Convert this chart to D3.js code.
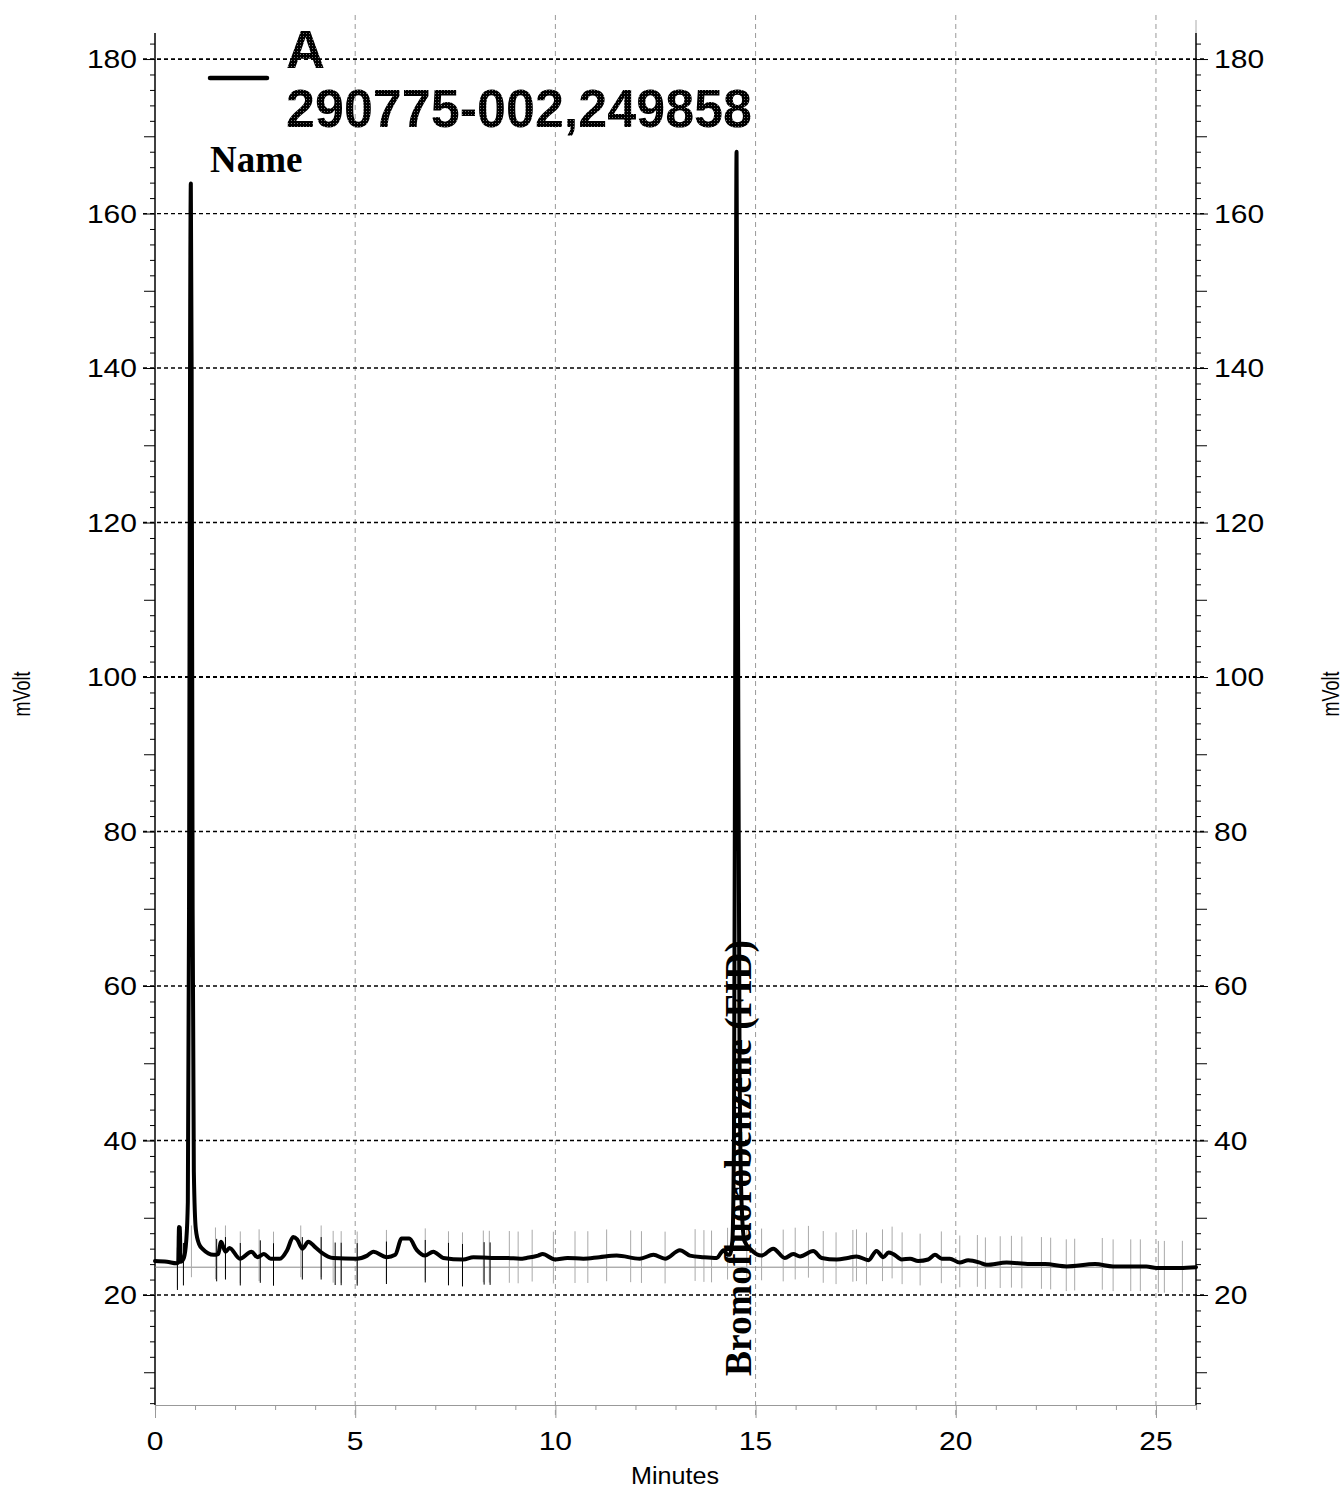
<!DOCTYPE html>
<html><head><meta charset="utf-8">
<script src="https://cdn.jsdelivr.net/npm/d3@7"></script>
<style>html,body{margin:0;padding:0;background:#fff;}svg{display:block;}</style>
</head><body>
<script>
// ---- data ----
const times = [0,0.3,0.54,0.58,0.6,0.62,0.64,0.72,0.78,0.82,0.85,0.875,0.895,0.915,0.94,0.97,1.02,1.1,1.2,1.46,1.58,1.65,1.76,1.86,2.12,2.41,2.56,2.72,2.89,3.12,3.3,3.45,3.55,3.68,3.83,4.0,4.16,4.45,5.04,5.3,5.45,5.79,6.0,6.16,6.35,6.54,6.74,6.95,7.2,7.7,7.95,8.4,8.78,9.12,9.28,9.57,9.68,9.99,10.3,10.7,11.1,11.53,12.11,12.45,12.74,13.11,13.36,13.7,14.03,14.2,14.3,14.35,14.42,14.46,14.49,14.525,14.56,14.6,14.65,14.72,14.9,15.15,15.44,15.73,15.94,16.11,16.44,16.65,17.03,17.3,17.52,17.82,18.02,18.19,18.32,18.44,18.65,18.86,19.06,19.31,19.48,19.65,19.85,20.1,20.31,20.6,20.77,21.27,21.85,22.23,22.77,23.48,23.93,24.76,25.01,25.6,26.0];
const signal = [24.4,24.3,24.1,24.2,28.8,28.7,24.3,24.8,27,32,70,140,163.9,140,70,36,28.5,26.6,25.9,25.2,25.3,26.9,25.6,26.1,24.7,25.6,24.9,25.3,24.7,24.7,25.8,27.5,27.2,26.0,26.9,26.2,25.5,24.8,24.7,25.1,25.6,24.9,25.2,27.3,27.3,25.8,25.1,25.6,24.8,24.6,24.9,24.8,24.8,24.7,24.8,25.1,25.3,24.6,24.8,24.7,24.9,25.1,24.7,25.2,24.7,25.8,25.1,24.9,24.8,25.8,25.2,25.2,27,40,100,168,110,50,32,27,25.8,25.1,26.0,24.8,25.3,25.0,25.7,24.8,24.6,24.8,25.0,24.5,25.7,24.9,25.5,25.3,24.6,24.7,24.4,24.6,25.2,24.7,24.7,24.2,24.5,24.2,23.9,24.2,24.0,24.0,23.7,24.0,23.7,23.7,23.5,23.5,23.6];
const blackMarks = [0.56,0.71,1.54,1.76,2.13,2.63,2.96,3.68,4.15,4.50,4.65,5.05,5.78,6.75,7.33,7.68,8.22,8.37];
const grayMarks = [0.56,0.91,1.51,1.76,2.13,2.6,2.96,3.64,4.15,4.45,4.65,5.05,5.78,6.75,7.33,7.68,8.2,8.35,8.85,9.07,9.42,9.95,10.49,10.81,11.28,11.88,12.15,12.74,13.49,13.71,13.9,14.3,14.78,15.15,15.69,15.99,16.32,16.69,17.01,17.43,17.52,17.77,18.17,18.41,18.66,19.11,19.64,20.1,20.54,20.74,21.11,21.39,21.65,22.14,22.37,22.76,22.97,23.66,23.93,24.37,24.61,25.06,25.21,25.66];
const yTicks = [20,40,60,80,100,120,140,160,180];
const xTicks = [0,5,10,15,20,25];
const baselineLevel = 23.6;
const legendLabel = "A";
const sampleName = "290775-002,249858";
const peakName = "Bromofluorobenzene (FID)";
const peakTime = 14.525;

// ---- layout ----
const W = 1344, H = 1491;
const L = 155, R = 1196, T = 33, B = 1405;
const x = d3.scaleLinear().domain([0, 26]).range([L, R]);
const y = d3.scaleLinear().domain([5.76, 183.37]).range([B, T]);

const svg = d3.select("body").append("svg").attr("width", W).attr("height", H);
const defs = svg.append("defs");
const pat = defs.append("pattern").attr("id","ht").attr("patternUnits","userSpaceOnUse").attr("width",3).attr("height",3);
pat.append("rect").attr("width",3).attr("height",3).attr("fill","#000");
pat.append("rect").attr("x",0).attr("y",0).attr("width",1).attr("height",1).attr("fill","#777");

const sansF = "'Liberation Sans', Arial, sans-serif";
const serifF = "'Liberation Serif', 'Times New Roman', serif";

// vertical grid (gray dashed)
svg.append("g").selectAll("line").data(xTicks.filter(d => d > 0)).join("line")
  .attr("x1", d => x(d)).attr("x2", d => x(d)).attr("y1", 15).attr("y2", B + 13)
  .attr("stroke", "#999").attr("stroke-width", 1).attr("stroke-dasharray", "5,4");

// horizontal grid (black dotted)
svg.append("g").selectAll("line").data(yTicks).join("line")
  .attr("x1", L - 12).attr("x2", R + 11).attr("y1", d => y(d)).attr("y2", d => y(d))
  .attr("stroke", "#000").attr("stroke-width", d => (d === 100 || d === 180) ? 1.8 : 1.3)
  .attr("stroke-dasharray", "4,3");

// x axis (gray)
const xAxis = d3.axisBottom(x).tickValues(d3.range(0, 27, 1)).tickSize(5).tickFormat("");
const gx = svg.append("g").attr("transform", `translate(0,${B})`).call(xAxis);
gx.select(".domain").attr("stroke", "#999").attr("stroke-width", 1.2);
gx.selectAll(".tick line").attr("stroke", "#999").attr("y2", d => d % 5 === 0 ? 13 : 5);
svg.append("g").selectAll("text").data(xTicks).join("text")
  .attr("x", d => x(d)).attr("y", B + 45).attr("text-anchor", "middle")
  .attr("font-family", sansF).attr("font-size", 25)
  .attr("textLength", d => String(d).length * 16.7).attr("lengthAdjust", "spacingAndGlyphs")
  .text(d => d);

// y axes
const minorY = d3.range(6, 183, 2);
function yTickLen(d){ return d % 20 === 0 ? 12 : (d % 10 === 0 ? 11 : 5); }
const gyl = svg.append("g").attr("transform", `translate(${L},0)`)
  .call(d3.axisLeft(y).tickValues(minorY).tickSize(5).tickFormat(""));
gyl.select(".domain").remove();
gyl.selectAll(".tick line").attr("x2", d => -yTickLen(d)).attr("stroke", "#000");
const gyr = svg.append("g").attr("transform", `translate(${R},0)`)
  .call(d3.axisRight(y).tickValues(minorY).tickSize(5).tickFormat(""));
gyr.select(".domain").remove();
gyr.selectAll(".tick line").attr("x2", d => yTickLen(d)).attr("stroke", "#000");
svg.append("line").attr("x1", L).attr("x2", L).attr("y1", T).attr("y2", B).attr("stroke", "#000").attr("stroke-width", 1.5);
svg.append("line").attr("x1", R).attr("x2", R).attr("y1", T).attr("y2", B).attr("stroke", "#000").attr("stroke-width", 1.5);
svg.append("line").attr("x1", R).attr("x2", R).attr("y1", 20).attr("y2", T).attr("stroke", "#aaa").attr("stroke-width", 1);

svg.append("g").selectAll("text").data(yTicks).join("text")
  .attr("x", L - 18).attr("y", d => y(d) + 9).attr("text-anchor", "end")
  .attr("font-family", sansF).attr("font-size", 25)
  .attr("textLength", d => String(d).length * 16.7).attr("lengthAdjust", "spacingAndGlyphs")
  .text(d => d);
svg.append("g").selectAll("text").data(yTicks).join("text")
  .attr("x", R + 18).attr("y", d => y(d) + 9).attr("text-anchor", "start")
  .attr("font-family", sansF).attr("font-size", 25)
  .attr("textLength", d => String(d).length * 16.7).attr("lengthAdjust", "spacingAndGlyphs")
  .text(d => d);

// axis titles
svg.append("text").attr("x", 675).attr("y", 1484).attr("text-anchor", "middle")
  .attr("font-family", sansF).attr("font-size", 23).attr("textLength", 88).attr("lengthAdjust", "spacingAndGlyphs")
  .text("Minutes");
[30, 1339].forEach(cx => {
  svg.append("text").attr("transform", `translate(${cx},694) rotate(-90)`).attr("text-anchor", "middle")
    .attr("font-family", sansF).attr("font-size", 23).attr("textLength", 45).attr("lengthAdjust", "spacingAndGlyphs")
    .text("mVolt");
});

// baseline
svg.append("line").attr("x1", L).attr("x2", R).attr("y1", y(baselineLevel)).attr("y2", y(baselineLevel))
  .attr("stroke", "#888").attr("stroke-width", 1);

// peak markers
const interp = t => {
  const i = d3.bisectLeft(times, t);
  if (i <= 0) return signal[0];
  if (i >= times.length) return signal[signal.length - 1];
  const t0 = times[i-1], t1 = times[i];
  const v0 = signal[i-1], v1 = signal[i];
  const v = v0 + (v1 - v0) * (t - t0) / (t1 - t0);
  return Math.min(v, 25.5);
};
svg.append("g").selectAll("line").data(grayMarks).join("line")
  .attr("x1", d => x(d)).attr("x2", d => x(d))
  .attr("y1", d => y(interp(d) + 3.5)).attr("y2", d => y(interp(d) - 3.2))
  .attr("stroke", "#aaa").attr("stroke-width", 1);
svg.append("g").selectAll("line").data(blackMarks).join("line")
  .attr("x1", d => x(d)).attr("x2", d => x(d))
  .attr("y1", d => y(interp(d) + 2.0)).attr("y2", d => y(interp(d) - 3.5))
  .attr("stroke", "#000").attr("stroke-width", 1);

// peak label
svg.append("text").attr("transform", `translate(${x(peakTime) + 14},1376) rotate(-90)`)
  .attr("font-family", serifF).attr("font-weight", "bold").attr("font-size", 37)
  .attr("textLength", 436).attr("lengthAdjust", "spacingAndGlyphs")
  .text(peakName);

// trace
const line = d3.line().x((d, i) => x(times[i])).y(d => y(d)).curve(d3.curveMonotoneX);
svg.append("path").datum(signal).attr("d", line)
  .attr("fill", "none").attr("stroke", "#000").attr("stroke-width", 4)
  .attr("stroke-linejoin", "round").attr("stroke-linecap", "round");

// legend
svg.append("line").attr("x1", 210).attr("x2", 267).attr("y1", 78).attr("y2", 78)
  .attr("stroke", "#000").attr("stroke-width", 4.5).attr("stroke-linecap", "round");
svg.append("text").attr("x", 286).attr("y", 68).attr("font-family", sansF).attr("font-weight", "bold")
  .attr("font-size", 54).attr("fill", "url(#ht)").text(legendLabel);
svg.append("text").attr("x", 286).attr("y", 127).attr("font-family", sansF).attr("font-weight", "bold")
  .attr("font-size", 54).attr("textLength", 466).attr("lengthAdjust", "spacingAndGlyphs")
  .attr("fill", "url(#ht)").text(sampleName);
svg.append("text").attr("x", 210).attr("y", 172).attr("font-family", serifF).attr("font-weight", "bold")
  .attr("font-size", 37).text("Name");
</script>
</body></html>
